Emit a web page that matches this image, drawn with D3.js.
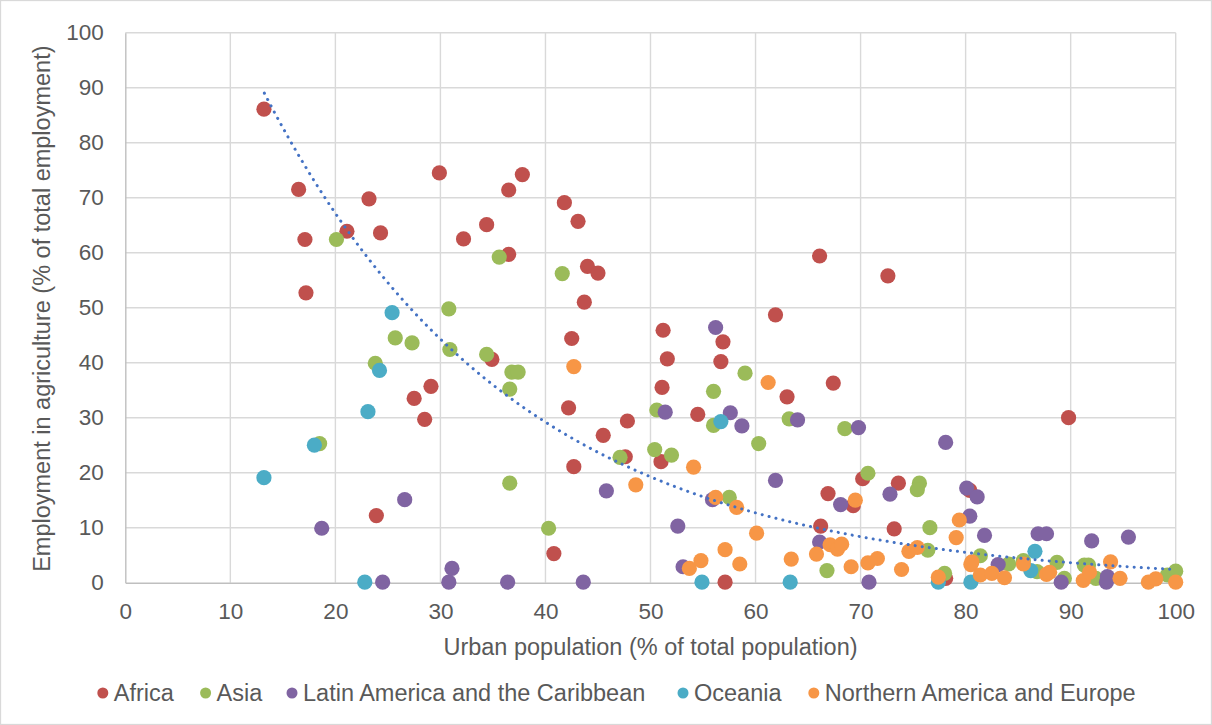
<!DOCTYPE html>
<html>
<head>
<meta charset="utf-8">
<script src="https://cdn.jsdelivr.net/npm/d3@7"></script>
<style>
  html, body { margin: 0; padding: 0; background: #fff; }
  svg { display: block; }
  text { font-family: "Liberation Sans", Arial, sans-serif; fill: #595959; }
</style>
</head>
<body>
<svg id="chart" width="1212" height="725"></svg>
<script>
// ---- Data (x = urban population %, y = employment in agriculture %) ----
const seriesNames = ["Africa", "Asia", "Latin America and the Caribbean", "Oceania", "Northern America and Europe"];
const seriesColors = ["#C0504D", "#9BBB59", "#8064A2", "#4BACC6", "#F79646"];

const africa = [
  [13.2,86.1],[16.5,71.5],[17.1,62.4],[17.2,52.7],[21.1,63.9],[23.2,69.8],[24.3,63.6],[23.9,12.2],
  [27.5,33.5],[29.1,35.7],[28.5,29.7],[29.9,74.5],[32.2,62.5],[34.4,65.1],[34.9,40.6],[36.5,71.4],
  [36.5,59.7],[37.8,74.2],[41.8,69.1],[43.1,65.7],[44.0,57.5],[45.0,56.3],[43.7,51.0],[42.5,44.4],
  [42.2,31.8],[42.7,21.1],[40.8,5.3],[45.5,26.8],[47.8,29.4],[47.6,22.9],[51.2,45.9],[51.6,40.7],
  [51.1,35.5],[51.0,22.0],[54.5,30.6],[56.9,43.8],[56.7,40.2],[57.1,0.1],[61.9,48.7],[63.0,33.8],
  [66.1,59.4],[72.6,55.8],[67.4,36.3],[66.9,16.2],[66.2,10.3],[69.3,14.0],[70.2,18.9],[73.6,18.1],
  [73.2,9.8],[78.1,0.8],[80.4,16.8],[89.8,30.0]
];
const asia = [
  [20.1,62.4],[18.5,25.3],[23.8,39.9],[25.7,44.5],[27.3,43.6],[30.8,49.8],[30.9,42.4],[34.4,41.5],
  [35.6,59.2],[36.8,38.3],[37.4,38.3],[36.6,35.2],[36.6,18.1],[40.3,9.9],[41.6,56.2],[47.1,22.8],
  [50.4,24.2],[50.6,31.4],[52.0,23.2],[56.0,34.8],[56.0,28.6],[57.5,15.5],[59.0,38.1],[60.3,25.3],
  [63.2,29.8],[66.8,2.2],[68.5,28.0],[70.7,19.9],[75.6,18.1],[75.4,16.9],[76.6,10.0],[76.4,5.9],
  [78.0,1.7],[81.4,4.9],[84.1,3.4],[85.5,4.0],[86.8,2.0],[88.7,3.7],[89.4,0.8],[91.3,3.2],
  [91.7,3.2],[92.4,0.8],[99.2,1.4],[100,2.1]
];
const latinAmerica = [
  [18.7,9.9],[24.5,0.1],[26.6,15.1],[30.8,0.1],[31.1,2.6],[36.4,0.1],[43.6,0.1],[45.8,16.7],
  [51.4,31.0],[52.6,10.3],[53.1,2.9],[55.9,15.1],[56.2,46.4],[57.6,30.9],[58.7,28.5],[61.9,18.6],
  [64.0,29.6],[66.1,7.4],[68.1,14.2],[69.8,28.2],[70.8,0.1],[72.8,16.1],[78.1,25.5],[80.1,17.2],
  [80.4,12.1],[81.1,15.6],[81.8,8.6],[83.1,3.3],[86.9,8.9],[87.7,8.9],[89.1,0.1],[92.0,7.6],
  [93.4,0.1],[93.5,1.1],[95.5,8.3]
];
const oceania = [
  [13.2,19.1],[18.0,25.0],[22.8,0.1],[23.1,31.1],[24.2,38.6],[25.4,49.1],[54.9,0.1],[56.7,29.3],
  [63.3,0.1],[77.4,0.1],[80.5,0.1],[86.2,2.2],[86.6,5.7]
];
const northAmericaEurope = [
  [42.7,39.3],[48.6,17.8],[53.7,2.6],[54.1,21.0],[54.8,4.0],[56.2,15.5],[57.1,6.0],[58.2,13.7],
  [58.5,3.4],[60.1,9.0],[61.2,36.4],[63.4,4.3],[65.8,5.2],[67.1,6.9],[67.8,6.1],[68.2,7.0],
  [69.1,2.9],[69.5,15.0],[70.7,3.6],[71.6,4.4],[73.9,2.4],[74.6,5.7],[75.4,6.4],[77.4,1.0],
  [79.1,8.2],[79.4,11.4],[80.5,3.3],[80.6,3.8],[81.4,1.4],[82.5,1.7],[83.7,0.9],[85.5,3.4],
  [87.7,1.5],[88.0,1.9],[91.2,0.4],[91.8,1.9],[93.8,3.8],[94.7,0.8],[97.4,0.1],[98.1,0.7],[100,0.1]
];
const seriesData = [africa, asia, latinAmerica, oceania, northAmericaEurope];

// Exponential trendline y = A * exp(B * x), drawn over the fitted x range
const trendA = 154.5;
const trendB = -0.04165;
const trendRange = [13.24, 100];

const xTicks = [0,10,20,30,40,50,60,70,80,90,100];
const yTicks = [0,10,20,30,40,50,60,70,80,90,100];
const xTitle = "Urban population (% of total population)";
const yTitle = "Employment in agriculture (% of total employment)";

// ---- Drawing ----
const W = 1212, H = 725;
const plot = { left: 125.3, right: 1175.7, top: 32.7, bottom: 582.7 };
const svg = d3.select("#chart");

svg.append("rect").attr("x", 0.5).attr("y", 0.5).attr("width", W - 1).attr("height", H - 1)
  .attr("fill", "#fff").attr("stroke", "#D9D9D9").attr("stroke-width", 1.3);

const x = d3.scaleLinear().domain([0, 100]).range([plot.left, plot.right]);
const y = d3.scaleLinear().domain([0, 100]).range([plot.bottom, plot.top]);

// gridlines
const grid = svg.append("g");
grid.selectAll("line.v").data(xTicks.slice(1)).join("line")
  .attr("x1", d => x(d)).attr("x2", d => x(d)).attr("y1", plot.top).attr("y2", plot.bottom)
  .attr("stroke", "#D9D9D9").attr("stroke-width", 1.4);
grid.selectAll("line.h").data(yTicks.slice(1)).join("line")
  .attr("x1", plot.left).attr("x2", plot.right).attr("y1", d => y(d)).attr("y2", d => y(d))
  .attr("stroke", "#D9D9D9").attr("stroke-width", 1.4);

// axes
const xAxis = svg.append("g").attr("transform", `translate(0,${plot.bottom})`)
  .call(d3.axisBottom(x).tickValues(xTicks).tickSize(0).tickPadding(21));
const yAxis = svg.append("g").attr("transform", `translate(${plot.left},0)`)
  .call(d3.axisLeft(y).tickValues(yTicks).tickSize(0).tickPadding(21.5));
[xAxis, yAxis].forEach(g => {
  g.select(".domain").attr("stroke", "#BFBFBF").attr("stroke-width", 1.4);
  g.selectAll("text").attr("font-size", 22.5).attr("fill", "#595959")
    .attr("font-family", "'Liberation Sans', Arial, sans-serif");
});
xAxis.selectAll("text").attr("dy", "0.68em");

// points
seriesData.forEach((data, i) => {
  svg.append("g").selectAll("circle").data(data).join("circle")
    .attr("cx", d => x(d[0])).attr("cy", d => y(d[1])).attr("r", 7.6)
    .attr("fill", seriesColors[i]);
});

// trendline
const trendPts = d3.range(0, 201).map(k => {
  const xv = trendRange[0] + (trendRange[1] - trendRange[0]) * k / 200;
  return [xv, trendA * Math.exp(trendB * xv)];
});
svg.append("path").datum(trendPts)
  .attr("d", d3.line().x(d => x(d[0])).y(d => y(d[1])))
  .attr("fill", "none").attr("stroke", "#4472C4").attr("stroke-width", 3)
  .attr("stroke-linecap", "round").attr("stroke-dasharray", "0.1 7");

// axis titles
svg.append("text").attr("x", (plot.left + plot.right) / 2).attr("y", 655)
  .attr("text-anchor", "middle").attr("font-size", 23.5).text(xTitle);
svg.append("text").attr("transform", `translate(50,${(plot.top + plot.bottom) / 2 + 1}) rotate(-90)`)
  .attr("text-anchor", "middle").attr("font-size", 23.5).text(yTitle);

// legend
const legendX = [102.8, 205.6, 292, 683, 813.8];
const legend = svg.append("g");
seriesNames.forEach((name, i) => {
  legend.append("circle").attr("cx", legendX[i]).attr("cy", 693).attr("r", 5.5).attr("fill", seriesColors[i]);
  legend.append("text").attr("x", legendX[i] + 11).attr("y", 701).attr("font-size", 23.5).text(name);
});
</script>
</body>
</html>
